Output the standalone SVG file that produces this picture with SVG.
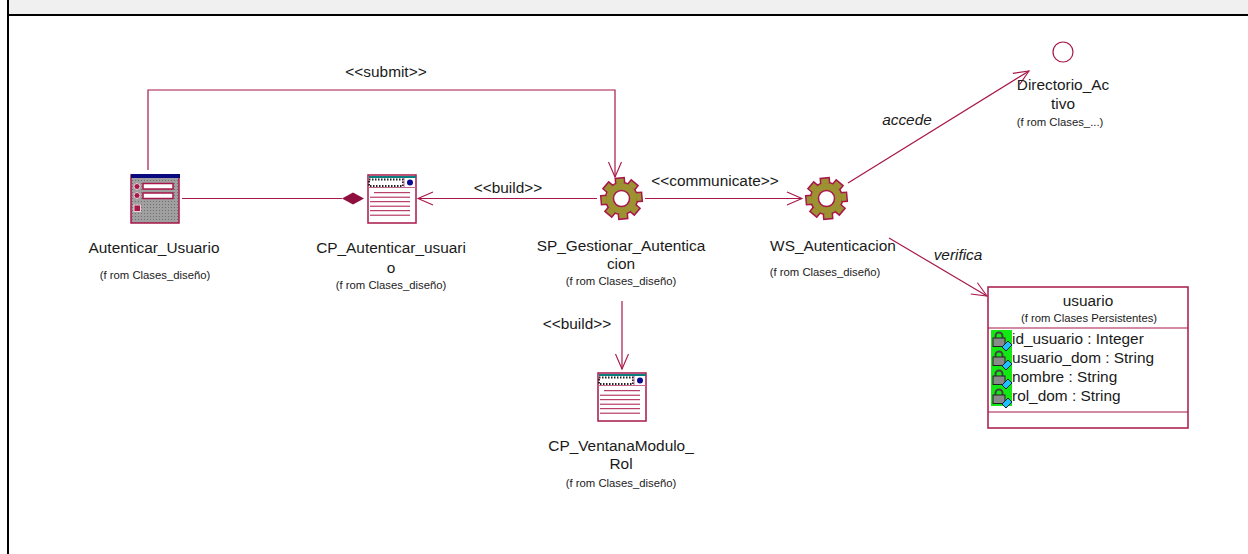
<svg xmlns="http://www.w3.org/2000/svg" xmlns:xlink="http://www.w3.org/1999/xlink" width="1248" height="554" viewBox="0 0 1248 554">
<style>
text{font-family:"Liberation Sans",Arial,sans-serif;fill:#1a1a1a;text-anchor:middle}
.n{font-size:15.4px}.s{font-size:11.3px}.l{font-size:15.4px;text-anchor:start}.i{font-style:italic}
.c{fill:none;stroke:#a8174a;stroke-width:1.2}
.o{stroke:#a8174a;stroke-width:1.5}
.a{fill:none;stroke:#a8174a;stroke-width:1.1}
</style>
<defs>
<marker id="open" markerWidth="20" markerHeight="20" refX="16" refY="9" orient="auto" markerUnits="userSpaceOnUse"><path d="M1 2.500L16 9L1 15.500" class="a"/></marker>
<pattern id="st" width="3" height="3" patternUnits="userSpaceOnUse"><rect width="3" height="3" fill="#a0a0a0"/><rect width="1" height="1" fill="#707070"/></pattern>
<g id="gear">
<circle r="16" fill="#9c9232" class="o"/>
<g fill="#9c9232" class="o">
<rect x="14" y="-4.500" width="6.500" height="9" transform="rotate(-5)"/>
<rect x="14" y="-4.500" width="6.500" height="9" transform="rotate(40)"/>
<rect x="14" y="-4.500" width="6.500" height="9" transform="rotate(85)"/>
<rect x="14" y="-4.500" width="6.500" height="9" transform="rotate(130)"/>
<rect x="14" y="-4.500" width="6.500" height="9" transform="rotate(175)"/>
<rect x="14" y="-4.500" width="6.500" height="9" transform="rotate(220)"/>
<rect x="14" y="-4.500" width="6.500" height="9" transform="rotate(265)"/>
<rect x="14" y="-4.500" width="6.500" height="9" transform="rotate(310)"/>
</g>
<circle r="15.2" fill="#9c9232"/>
<circle r="8" fill="#fff" class="o"/>
</g>
<g id="page">
<rect x="0" y="0" width="48" height="48" fill="#fff" class="o"/>
<rect x="1" y="1" width="47" height="2" fill="#0b7f7f"/>
<rect x="1" y="4.500" width="34" height="6.500" fill="#fff" stroke="#222" stroke-width="2" stroke-dasharray="1.500 1.500"/>
<circle cx="42" cy="7.500" r="3" fill="#0a0a90"/>
<path d="M6 17.700H42M2 22.200H42M2 26.700H42M2 31.200H42M2 35.700H42M2 40.200H42" fill="none" stroke="#a8174a" stroke-width="1"/>
<path d="M0 12.500H48M36 3V12.500" stroke="#c4668a" stroke-width="1" fill="none"/>
</g>
<g id="key">
<path d="M3.500 7V4a3.500 3.500 0 0 1 7 0V7" fill="none" stroke="#444" stroke-width="2"/>
<rect x="1" y="6" width="12" height="8.500" fill="#8a8a8a" stroke="#222"/>
<path d="M10 15L16 9L20 13L14 19Z" fill="#20c0ff" stroke="#123"/>
</g>
</defs>
<rect width="1248" height="554" fill="#fff"/>
<rect x="9" y="0" width="1239" height="14" fill="#f0f0f0"/>
<rect x="7" y="0" width="2" height="554" fill="#000"/>
<rect x="7" y="14" width="1241" height="2" fill="#000"/>

<g id="connectors">
<path class="c" d="M148 170V90H615V177" marker-end="url(#open)"/>
<path class="c" d="M182 198.500H342"/>
<path d="M342 198.500L353 192.500L364 198.500L353 204.500Z" fill="#8f0f3f"/>
<path class="c" d="M597 198.500H418" marker-end="url(#open)"/>
<path class="c" d="M645 198.500H802" marker-end="url(#open)"/>
<path class="c" d="M622 301V369" marker-end="url(#open)"/>
<path class="c" d="M848 183L1029 71" marker-end="url(#open)"/>
<path class="c" d="M889 238L987 296" marker-end="url(#open)"/>
<text class="n" x="386" y="77">&lt;&lt;submit&gt;&gt;</text>
<text class="n" x="508" y="193">&lt;&lt;build&gt;&gt;</text>
<text class="n" x="715" y="186">&lt;&lt;communicate&gt;&gt;</text>
<text class="n" x="577" y="329">&lt;&lt;build&gt;&gt;</text>
<text class="n i" x="907" y="125">accede</text>
<text class="n i" x="958" y="260">verifica</text>
</g>

<g id="Autenticar_Usuario">
<rect x="131" y="175" width="48" height="48" fill="url(#st)" class="o"/>
<rect x="131" y="174" width="49" height="4" fill="#0a0a80"/>
<g fill="#fff" class="o">
<rect x="143" y="183.500" width="30" height="5.500"/>
<rect x="143" y="193" width="30" height="5.500"/>
</g>
<g fill="#a8174a" stroke="#f0d0d8" stroke-width="1"><circle cx="137" cy="186.500" r="3"/><circle cx="137" cy="195.500" r="3"/><rect x="134" y="205" width="6.500" height="6.500"/></g>
<text class="n" x="154" y="253">Autenticar_Usuario</text>
<text class="s" x="155" y="279">(f rom Clases_diseño)</text>
</g>

<g id="CP_Autenticar_usuario">
<use xlink:href="#page" href="#page" x="368" y="175"/>
<text class="n" x="391" y="253">CP_Autenticar_usuari</text>
<text class="n" x="391" y="273">o</text>
<text class="s" x="391" y="289">(f rom Clases_diseño)</text>
</g>

<g id="SP_Gestionar_Autenticacion">
<use xlink:href="#gear" href="#gear" x="621.500" y="198.500"/>
<text class="n" x="621" y="251">SP_Gestionar_Autentica</text>
<text class="n" x="621" y="269">cion</text>
<text class="s" x="621" y="285">(f rom Clases_diseño)</text>
</g>

<g id="WS_Autenticacion">
<use xlink:href="#gear" href="#gear" x="826.500" y="198.500"/>
<text class="n" x="833" y="251">WS_Autenticacion</text>
<text class="s" x="825" y="276">(f rom Clases_diseño)</text>
</g>

<g id="Directorio_Activo">
<circle cx="1063" cy="52" r="10" fill="#fff" stroke="#a8174a" stroke-width="1.2"/>
<text class="n" x="1063" y="90">Directorio_Ac</text>
<text class="n" x="1063" y="109">tivo</text>
<text class="s" x="1060" y="126">(f rom Clases_...)</text>
</g>

<g id="CP_VentanaModulo_Rol">
<use xlink:href="#page" href="#page" x="598" y="373"/>
<text class="n" x="621" y="451">CP_VentanaModulo_</text>
<text class="n" x="621" y="469">Rol</text>
<text class="s" x="621" y="487">(f rom Clases_diseño)</text>
</g>

<g id="usuario">
<rect x="988" y="287" width="200" height="141" fill="#fff" class="o"/>
<path d="M988 328H1188M988 412H1188" stroke="#a8174a" stroke-width="1.2"/>
<rect x="991" y="330" width="21" height="76" fill="#12e812"/>
<use xlink:href="#key" href="#key" x="992" y="332"/>
<use xlink:href="#key" href="#key" x="992" y="351"/>
<use xlink:href="#key" href="#key" x="992" y="370"/>
<use xlink:href="#key" href="#key" x="992" y="389"/>
<text class="n" x="1088" y="306">usuario</text>
<text class="s" x="1089" y="322">(f rom Clases Persistentes)</text>
<text class="l" x="1012" y="344">id_usuario : Integer</text>
<text class="l" x="1012" y="363">usuario_dom : String</text>
<text class="l" x="1012" y="382">nombre : String</text>
<text class="l" x="1012" y="401">rol_dom : String</text>
</g>
</svg>
